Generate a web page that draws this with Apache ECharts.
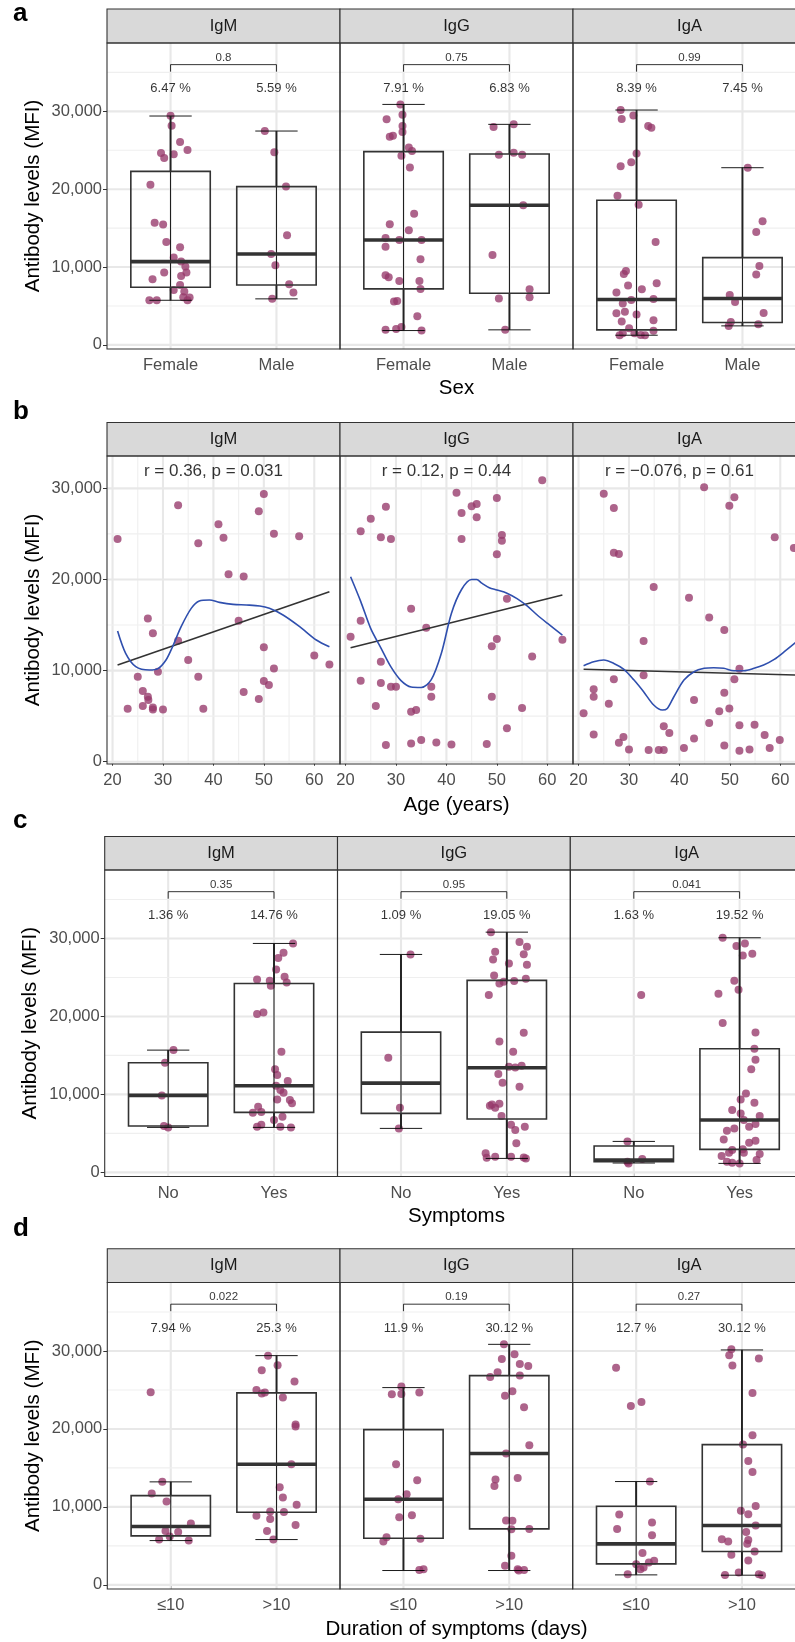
<!DOCTYPE html>
<html>
<head>
<meta charset="utf-8">
<script src="https://cdn.jsdelivr.net/npm/echarts@6/dist/echarts.min.js"></script>
<style>html,body{margin:0;padding:0;background:#fff}#c{width:795px;height:1642px}</style>
</head>
<body>
<div id="c"></div>
<script>
// ---------------- DATA ----------------
const facetNames = ['IgM', 'IgG', 'IgA'];
const sexCats = ['Female', 'Male'];
const sympCats = ['No', 'Yes'];
const durCats = ['\u226410', '>10'];
const yTicks = [0, 10000, 20000, 30000];
const yMinor = [5000, 15000, 25000, 35000];
const yMinorB = [5000, 15000, 25000];
const ageTicks = [20, 30, 40, 50, 60];
const ageMinor = [25, 35, 45, 55];

// points: [jitter offset from category, MFI]
const a_IgM_Female = [[0,29440],[0.01,28160],[0.09,26060],[0.16,25030],[-0.09,24650],[0.03,24480],[-0.06,24000],[-0.19,20580],[-0.15,15700],[-0.07,15450],[-0.04,13220],[0.09,12540],[0.03,11210],[0.10,10700],[0.14,10060],[0.15,9290],[-0.06,9290],[0.10,8860],[-0.17,8430],[0.09,7700],[0.03,7060],[0.13,6850],[0.18,6080],[0.16,5730],[-0.20,5730],[-0.13,5730],[0.12,6120]];
const a_IgM_Male = [[-0.11,27470],[-0.02,24730],[0.09,20330],[0.10,14080],[-0.05,11680],[-0.01,10230],[0.12,7790],[0.16,6720],[-0.04,5910]];
const a_IgG_Female = [[-0.03,30890],[-0.16,29000],[-0.01,29570],[-0.01,28110],[-0.01,27340],[-0.13,26740],[-0.10,26870],[0.05,25370],[0.08,24900],[-0.02,24300],[0.06,22800],[0.10,16860],[-0.13,15490],[0.05,14720],[-0.17,13740],[-0.04,13480],[0.17,13480],[-0.17,12620],[0.16,11000],[-0.17,8940],[-0.14,8690],[-0.04,8220],[0.15,8220],[0.16,7190],[-0.09,5560],[-0.06,5650],[0.13,3680],[-0.17,1930],[-0.07,2050],[-0.02,2310],[0.17,1840]];
const a_IgG_Male = [[-0.15,27980],[0.04,28330],[-0.10,24430],[0.04,24690],[0.12,24430],[0.13,17930],[-0.16,11550],[-0.10,5950],[0.19,7150],[0.19,6120],[-0.04,1930]];
const a_IgA_Female = [[-0.15,30170],[-0.14,29010],[-0.03,29480],[0.11,28110],[0.14,27900],[0,24600],[-0.15,22940],[-0.05,23450],[-0.18,19170],[0.02,18010],[0.18,13220],[-0.10,9500],[-0.12,9110],[0.19,7920],[-0.08,7620],[0.05,7150],[-0.19,6720],[-0.05,5780],[0.16,5900],[-0.13,5310],[-0.19,4070],[-0.11,4240],[0,3890],[-0.14,3000],[0.16,3170],[-0.07,2140],[-0.02,1500],[-0.16,1240],[-0.13,1500],[0.08,1240],[0.16,1800],[0.04,1280]];
const a_IgA_Male = [[0.05,22760],[0.19,15870],[0.13,14500],[0.16,10140],[0.13,9030],[-0.12,6420],[-0.07,5520],[0.20,4110],[-0.11,2950],[-0.13,2440],[0.15,2650]];
// box stats: [min, q1, median, q3, max]
const a_IgM_box = [[5730,7400,10700,22290,29400],[5910,7700,11680,20330,27470]];
const a_IgG_box = [[1840,7190,13480,24820,30890],[1930,6630,17930,24520,28330]];
const a_IgA_box = [[1240,1930,5820,18570,30170],[2440,2870,5950,11210,22760]];
const a_pvals = ['0.8', '0.75', '0.99'];
const a_pct = [['6.47 %','5.59 %'],['7.91 %','6.83 %'],['8.39 %','7.45 %']];

// panel b: [age, MFI]
const b_IgM = [[21,24440],[23,5820],[25,9330],[26,7760],[26,6110],[27,15730],[27,7130],[27.1,6770],[28,14090],[28,5960],[28,5740],[29,9880],[30,5740],[33,28140],[33,13280],[35,11160],[37,23970],[37,9330],[38,5820],[41,26050],[42,24590],[43,20560],[45,15480],[46,20340],[46,7650],[49,27480],[49,6880],[50,29380],[50,12550],[50,8850],[51,8420],[52,25030],[52,10240],[57,24740],[60,11670],[63,10680]];
const b_IgG = [[21,13720],[23,25280],[23,15480],[23,8890],[25,26670],[26,6110],[27,24630],[27,10980],[27,8640],[28,27990],[28,1830],[29,24440],[29,8230],[30,8230],[33,16800],[33,5490],[34,5670],[33,2010],[35,2380],[36,14710],[37,8230],[37,7140],[38,2120],[41,1900],[42,29530],[43,27300],[43,24440],[45,28030],[46,28280],[46,26820],[48,1940],[49,7140],[49,12660],[50,13470],[50,28940],[50,22760],[51,24880],[51,24260],[52,17890],[52,3660],[55,5890],[57,11560],[59,30880],[63,13390]];
const b_IgA = [[21,5310],[23,7940],[23,7130],[23,3000],[25,29420],[26,6370],[27,27850],[27,9040],[27,22940],[28,22800],[28,2090],[28.9,2710],[30,1350],[32.9,13250],[32.9,9480],[33.9,1280],[34.9,19170],[35.9,1280],[36.9,1280],[36.9,3880],[38,3150],[40.9,1500],[41.9,18000],[42.9,6770],[42.9,2560],[44.9,30110],[45.9,15840],[45.9,4240],[47.9,5530],[48.9,14450],[48.9,7570],[48.9,1790],[49.9,28100],[49.9,5850],[50.9,29020],[50.9,9040],[51.9,10210],[51.9,3990],[51.9,1210],[53.9,1350],[54.9,4060],[56.9,2930],[57.9,1500],[58.9,24630],[59.9,2380],[62.7,23450]];
const b_IgM_lm = [[21,10610],[63,18660]];
const b_IgG_lm = [[21,12510],[63,18300]];
const b_IgA_lm = [[21,10140],[63,9510]];
const b_IgM_loess = [[21,14340],[22.6,11890],[24.6,10430],[27.3,10060],[29,10210],[30.6,11160],[31.9,12620],[33.6,14820],[35.6,16830],[37.2,17640],[39.2,17750],[41.2,17490],[43.9,17270],[46.5,17200],[49.2,17090],[51.1,16830],[53.8,16100],[57.1,14820],[60.4,13360],[63,12620]];
const b_IgG_loess = [[21,20300],[23,17600],[25,14600],[27,12500],[29,10400],[31,8900],[33,8200],[35,8150],[37,9000],[39,11900],[41,16300],[43,18900],[45,20000],[46,20000],[47,19600],[48.5,19100],[50,18850],[52,18500],[54,17900],[56,17100],[58,16100],[60,15200],[63,13900]];
const b_IgA_loess = [[21,10540],[23,10980],[25,11160],[27,10790],[29,10140],[31,8960],[32.9,7680],[34.9,6220],[36.6,5670],[37.6,5850],[38.9,7130],[40.9,8960],[42.9,9880],[44.9,10250],[46.8,10320],[48.8,10250],[50.8,9990],[52.8,9990],[54.8,10250],[56.7,10610],[58.8,11230],[60.8,12070],[63,13060]];
const b_stats = ['r = 0.36, p = 0.031', 'r = 0.12, p = 0.44', 'r = \u22120.076, p = 0.61'];

// panel c
const c_IgM_No = [[0.05,15680],[-0.03,14060],[-0.06,9870],[-0.04,5940],[0,5770]];
const c_IgM_Yes = [[0.18,29360],[0.09,28160],[0.04,27480],[0.02,26030],[0.10,25090],[-0.16,24740],[-0.04,24570],[0.12,24360],[-0.03,23930],[-0.16,20300],[-0.10,20510],[0.07,15470],[0.01,13210],[0.03,12480],[0.13,11710],[0.02,11110],[0.06,10560],[0.09,10210],[0.03,9360],[0.15,9270],[0.17,8850],[-0.15,8420],[-0.20,7650],[-0.12,7740],[0.08,7140],[0,6710],[-0.12,6110],[-0.16,5850],[0.06,5850],[0.16,5770]];
const c_IgG_No = [[0.09,27950],[-0.12,14700],[-0.01,8290],[-0.02,5640]];
const c_IgG_Yes = [[-0.15,30810],[0.12,29530],[0.19,28930],[-0.11,28290],[0.16,27990],[-0.13,27310],[0.02,26790],[0.19,26620],[-0.12,25260],[-0.07,24230],[-0.03,24440],[0.07,24530],[0.18,24830],[-0.17,22740],[0.16,17910],[-0.07,16790],[0.06,15470],[0.02,13550],[0.08,13460],[0.14,13680],[-0.08,12610],[-0.04,11500],[0.12,10980],[-0.16,8550],[-0.11,8290],[-0.07,8800],[-0.14,8720],[-0.05,7220],[0.04,6110],[0.08,5430],[0.17,5850],[0.09,3720],[-0.20,2440],[-0.19,1880],[-0.11,2010],[0.04,2010],[0.16,1920],[0.18,1790]];
const c_IgA_No = [[0.07,22740],[-0.06,3970],[-0.06,1370],[0.08,1710],[-0.05,1150]];
const c_IgA_Yes = [[-0.16,30090],[-0.03,29020],[0.05,29360],[0.03,27820],[0.12,28030],[-0.05,24570],[-0.01,23420],[-0.20,22910],[-0.16,19150],[0.15,17950],[0.14,15850],[0.15,14440],[0.11,13210],[0.06,10130],[0.01,9360],[0.14,8930],[-0.07,7990],[0.01,7560],[0.19,7220],[0.04,6710],[-0.05,5640],[0.09,5850],[0.15,6200],[-0.12,5340],[-0.15,4230],[0.09,3800],[0.15,4060],[-0.07,2860],[0.03,2950],[-0.10,2520],[0.04,2520],[0.19,2350],[-0.17,2090],[-0.12,1370],[-0.07,1240],[0,1150],[0.16,1580]];
const c_IgM_box = [[5770,5940,9870,14060,15680],[5770,7690,11110,24230,29360]];
const c_IgG_box = [[5640,7560,11450,17990,27950],[1790,6840,13420,24620,30810]];
const c_IgA_box = [[1200,1370,1580,3380,3970],[1150,2950,6710,15850,30090]];
const c_pvals = ['0.35', '0.95', '0.041'];
const c_pct = [['1.36 %','14.76 %'],['1.09 %','19.05 %'],['1.63 %','19.52 %']];

// panel d
const d_IgM_le = [[-0.19,24700],[-0.08,13210],[-0.18,11710],[-0.04,10680],[0.19,7860],[-0.05,6920],[0.07,6790],[-0.01,6200],[-0.11,5810],[0.17,5680]];
const d_IgM_gt = [[-0.08,29400],[0.01,28160],[-0.14,27520],[0.17,26070],[-0.19,25000],[-0.14,24530],[-0.11,24660],[0.06,24020],[0.18,20560],[0.18,20300],[0.14,15470],[0.03,12520],[0.06,11200],[0.19,10260],[-0.06,9400],[0.07,9360],[-0.19,8850],[-0.06,8460],[0.18,7690],[-0.09,6920],[-0.03,5810]];
const d_IgG_le = [[-0.11,24440],[-0.02,24490],[-0.02,25430],[0.15,24660],[-0.07,15470],[0.13,13420],[0.03,11620],[-0.05,10980],[-0.04,8680],[0.08,8930],[-0.16,6110],[-0.19,5560],[0.16,5900],[0.15,1920],[0.19,2010]];
const d_IgG_gt = [[-0.05,30850],[-0.07,28970],[0.05,29570],[0.10,28330],[0.18,28080],[-0.18,26670],[-0.11,27260],[0.10,26840],[0.03,24830],[-0.04,24270],[0.14,22780],[0.19,17910],[-0.03,16840],[-0.13,13500],[0.08,13720],[-0.14,12690],[-0.03,8250],[0.03,8210],[0.02,7140],[0.19,7180],[0.02,3720],[-0.04,2440],[0.08,2010],[0.14,1920],[0.09,1840]];
const d_IgA_le = [[-0.19,27860],[-0.05,22950],[0.05,23460],[0.13,13250],[-0.16,9020],[0.15,7990],[-0.18,7180],[0.15,6370],[0.06,4100],[0,2650],[0.07,2220],[0.12,2860],[0.17,3080],[0.04,2010],[-0.08,1370]];
const d_IgA_gt = [[-0.10,30210],[-0.12,29440],[0.16,29020],[-0.09,28120],[0.10,24620],[0.10,19190],[0.01,17990],[0.06,15900],[0.10,14490],[0.13,10130],[-0.01,9490],[0.06,9060],[0.13,7610],[0.04,6790],[0.06,5770],[-0.19,5850],[-0.13,5560],[0.05,5260],[0.12,4270],[-0.10,3850],[0.06,3120],[-0.16,1280],[-0.03,1580],[0.16,1370],[0.19,1240]];
const d_IgM_box = [[5680,6280,7480,11450,13210],[5810,9320,15470,24620,29400]];
const d_IgG_box = [[1840,5980,10980,19910,25300],[1840,7180,16840,26840,30850]];
const d_IgA_box = [[1280,2690,5260,10090,13250],[1240,4270,7610,17990,30130]];
const d_pvals = ['0.022', '0.19', '0.27'];
const d_pct = [['7.94 %','25.3 %'],['11.9 %','30.12 %'],['12.7 %','30.12 %']];

// annotation heights (data units)
const P_Y = 36900, BR_HI = 36000, BR_LO = 35100, PCT_Y = 32900;
const R_X = 40, R_Y = 31900;

// ---------------- LAYOUT / STYLE ----------------
const FONT = '"Liberation Sans", Arial, Helvetica, sans-serif';
const PT = '#96386a';
const PANELS = [
  {lab:'a', top:43, height:306, left:107, w:233, stripTop:9, ymin:-530, ymax:38780, labY:14.3, xTitle:'Sex', xTitleY:388.3, yTitleX:33},
  {lab:'b', top:456, height:308, left:107, w:233, stripTop:422.5, ymin:-250, ymax:33550, labY:411.7, xTitle:'Age (years)', xTitleY:805, yTitleX:33},
  {lab:'c', top:870, height:306.5, left:104.7, w:232.8, stripTop:836.5, ymin:-530, ymax:38780, labY:821, xTitle:'Symptoms', xTitleY:1216.7, yTitleX:30},
  {lab:'d', top:1282.5, height:306.5, left:107.3, w:232.7, stripTop:1248.7, ymin:-530, ymax:38780, labY:1229.3, xTitle:'Duration of symptoms (days)', xTitleY:1629.3, yTitleX:33}
];

const grids = [], xAxes = [], yAxes = [], series = [], graphics = [];
const fmtK = v => String(Math.round(v)).replace(/\B(?=(\d{3})+(?!\d))/g, ',');

function gridLineSeries(gi, xMaj, xMin, yMaj, yMin, x0, y0) {
  const data = [];
  xMaj.forEach(v => data.push([v, y0, 0, 1]));
  xMin.forEach(v => data.push([v, y0, 0, 0]));
  yMaj.forEach(v => data.push([x0, v, 1, 1]));
  yMin.forEach(v => data.push([x0, v, 1, 0]));
  return {
    type: 'custom', xAxisIndex: gi, yAxisIndex: gi, silent: true, z: 1, clip: false,
    data,
    renderItem: (params, api) => {
      const cs = params.coordSys;
      const p = api.coord([api.value(0), api.value(1)]);
      const vert = api.value(2) === 0;
      const shape = vert ? {x1: p[0], y1: cs.y, x2: p[0], y2: cs.y + cs.height}
                         : {x1: cs.x, y1: p[1], x2: cs.x + cs.width, y2: p[1]};
      return {type: 'line', shape, silent: true,
        style: {stroke: api.value(3) ? '#e8e8e8' : '#efefef', lineWidth: api.value(3) ? 2.1 : 1.1}};
    }
  };
}

function boxRender(params, api) {
  const x = api.value(0);
  const pMin = api.coord([x, api.value(1)]), pQ1 = api.coord([x, api.value(2)]),
        pMed = api.coord([x, api.value(3)]), pQ3 = api.coord([x, api.value(4)]),
        pMax = api.coord([x, api.value(5)]);
  const bw = api.size([0.75, 0])[0], cw = api.size([0.4, 0])[0];
  const cx = pMin[0];
  const ln = (x1, y1, x2, y2, c, w) => ({type: 'line', shape: {x1, y1, x2, y2}, style: {stroke: c, lineWidth: w}});
  return {type: 'group', children: [
    ln(cx, pMin[1], cx, pMax[1], '#000', 0.9),
    ln(cx - cw / 2, pMax[1], cx + cw / 2, pMax[1], '#000', 0.9),
    ln(cx - cw / 2, pMin[1], cx + cw / 2, pMin[1], '#000', 0.9),
    ln(cx, pQ3[1], cx, pMax[1], '#222', 1.9),
    ln(cx, pQ1[1], cx, pMin[1], '#222', 1.9),
    {type: 'rect', shape: {x: cx - bw / 2, y: pQ3[1], width: bw, height: pQ1[1] - pQ3[1]},
      style: {fill: 'rgba(0,0,0,0)', stroke: '#333', lineWidth: 1.6}},
    ln(cx - bw / 2, pMed[1], cx + bw / 2, pMed[1], '#333', 3.6)
  ]};
}

function addAxes(gi, P, f, xCfg) {
  grids.push({left: P.left + f * P.w, top: P.top, width: P.w, height: P.height, show: false,
    containLabel: false, outerBoundsMode: 'none'});
  xAxes.push(Object.assign({gridIndex: gi, type: 'value', axisLine: {show: false}, splitLine: {show: false},
    axisTick: {show: true, customValues: xCfg.ticks, length: 4, lineStyle: {color: '#333', width: 1}},
    axisLabel: {show: true, customValues: xCfg.ticks, formatter: xCfg.fmt, color: '#4d4d4d', fontSize: 16.5, fontFamily: FONT, margin: 8}
  }, {min: xCfg.min, max: xCfg.max}));
  yAxes.push({gridIndex: gi, type: 'value', min: P.ymin, max: P.ymax, axisLine: {show: false}, splitLine: {show: false},
    axisTick: {show: f === 0, customValues: yTicks, length: 4, lineStyle: {color: '#333', width: 1}},
    axisLabel: {show: f === 0, customValues: yTicks, formatter: fmtK, color: '#4d4d4d', fontSize: 16.5, fontFamily: FONT, margin: 5}
  });
}

function boxFacet(gi, P, f, cats, ptsA, ptsB, box, pval, pct) {
  addAxes(gi, P, f, {min: 0.4, max: 2.6, ticks: [1, 2], fmt: v => cats[Math.round(v) - 1]});
  series.push(gridLineSeries(gi, [1, 2], [], yTicks, yMinor, 1, 0));
  series.push({type: 'scatter', xAxisIndex: gi, yAxisIndex: gi, symbolSize: 8, silent: true, z: 3,
    itemStyle: {color: PT, opacity: 0.78},
    data: ptsA.map(p => [1 + p[0], p[1]]).concat(ptsB.map(p => [2 + p[0], p[1]]))});
  series.push({type: 'custom', xAxisIndex: gi, yAxisIndex: gi, silent: true, z: 4, clip: false,
    encode: {x: 0, y: [1, 2, 3, 4, 5]},
    data: box.map((b, i) => [i + 1].concat(b)), renderItem: boxRender});
  series.push({type: 'line', xAxisIndex: gi, yAxisIndex: gi, silent: true, z: 5, symbol: 'none', showSymbol: false,
    lineStyle: {color: '#000', width: 0.8}, data: [[1, BR_LO], [1, BR_HI], [2, BR_HI], [2, BR_LO]]});
  series.push({type: 'scatter', xAxisIndex: gi, yAxisIndex: gi, silent: true, z: 6, symbolSize: 1,
    itemStyle: {color: 'rgba(0,0,0,0)'},
    label: {show: true, position: 'inside', color: '#000', fontFamily: FONT, fontSize: 13},
    data: [
      {value: [1.5, P_Y], label: {formatter: pval, fontSize: 11.5}},
      {value: [1, PCT_Y], label: {formatter: pct[0]}},
      {value: [2, PCT_Y], label: {formatter: pct[1]}}
    ]});
}

function ageFacet(gi, P, f, pts, lm, loess, stat) {
  addAxes(gi, P, f, {min: 18.9, max: 65.1, ticks: ageTicks, fmt: v => String(v)});
  series.push(gridLineSeries(gi, ageTicks, ageMinor, yTicks, yMinorB, 20, 0));
  series.push({type: 'scatter', xAxisIndex: gi, yAxisIndex: gi, symbolSize: 8, silent: true, z: 3,
    itemStyle: {color: PT, opacity: 0.78}, data: pts});
  series.push({type: 'line', xAxisIndex: gi, yAxisIndex: gi, silent: true, z: 4, symbol: 'none', showSymbol: false,
    lineStyle: {color: '#333', width: 1.6}, data: lm});
  series.push({type: 'line', xAxisIndex: gi, yAxisIndex: gi, silent: true, z: 5, symbol: 'none', showSymbol: false,
    smooth: 0.3, lineStyle: {color: '#2f4fae', width: 1.6}, data: loess});
  series.push({type: 'scatter', xAxisIndex: gi, yAxisIndex: gi, silent: true, z: 6, symbolSize: 1,
    itemStyle: {color: 'rgba(0,0,0,0)'},
    label: {show: true, position: 'inside', color: '#000', fontFamily: FONT, fontSize: 17, formatter: stat},
    data: [[R_X, R_Y]]});
}

let gi = 0;
const boxPanels = [
  {P: PANELS[0], cats: sexCats, pts: [[a_IgM_Female, a_IgM_Male], [a_IgG_Female, a_IgG_Male], [a_IgA_Female, a_IgA_Male]], box: [a_IgM_box, a_IgG_box, a_IgA_box], pv: a_pvals, pct: a_pct},
  null,
  {P: PANELS[2], cats: sympCats, pts: [[c_IgM_No, c_IgM_Yes], [c_IgG_No, c_IgG_Yes], [c_IgA_No, c_IgA_Yes]], box: [c_IgM_box, c_IgG_box, c_IgA_box], pv: c_pvals, pct: c_pct},
  {P: PANELS[3], cats: durCats, pts: [[d_IgM_le, d_IgM_gt], [d_IgG_le, d_IgG_gt], [d_IgA_le, d_IgA_gt]], box: [d_IgM_box, d_IgG_box, d_IgA_box], pv: d_pvals, pct: d_pct}
];
const agePts = [b_IgM, b_IgG, b_IgA], ageLm = [b_IgM_lm, b_IgG_lm, b_IgA_lm], ageLo = [b_IgM_loess, b_IgG_loess, b_IgA_loess];

PANELS.forEach((P, pi) => {
  for (let f = 0; f < 3; f++) {
    if (pi === 1) ageFacet(gi, P, f, agePts[f], ageLm[f], ageLo[f], b_stats[f]);
    else {
      const B = boxPanels[pi];
      boxFacet(gi, P, f, B.cats, B.pts[f][0], B.pts[f][1], B.box[f], B.pv[f], B.pct[f]);
    }
    gi++;
    const x0 = P.left + f * P.w;
    graphics.push({type: 'rect', z: 100, silent: true, shape: {x: x0, y: P.stripTop, width: P.w, height: P.top - P.stripTop},
      style: {fill: '#d9d9d9', stroke: '#333', lineWidth: 1.1}});
    graphics.push({type: 'text', z: 101, silent: true, x: x0 + P.w / 2, y: (P.stripTop + P.top) / 2,
      style: {text: facetNames[f], fill: '#1a1a1a', font: '16.5px ' + FONT, textAlign: 'center', textVerticalAlign: 'middle'}});
    graphics.push({type: 'rect', z: 100, silent: true, shape: {x: x0, y: P.top, width: P.w, height: P.height},
      style: {fill: 'rgba(0,0,0,0)', stroke: '#333', lineWidth: 1.1}});
  }
  graphics.push({type: 'text', z: 101, silent: true, x: 13, y: P.labY,
    style: {text: P.lab, fill: '#000', font: 'bold 26px ' + FONT, textAlign: 'left', textVerticalAlign: 'middle'}});
  graphics.push({type: 'text', z: 101, silent: true, x: 456.5, y: P.xTitleY,
    style: {text: P.xTitle, fill: '#000', font: '20.5px ' + FONT, textAlign: 'center', textVerticalAlign: 'middle'}});
  graphics.push({type: 'text', z: 101, silent: true, x: P.yTitleX, y: P.top + P.height / 2, rotation: Math.PI / 2,
    style: {text: 'Antibody levels (MFI)', fill: '#000', font: '20.5px ' + FONT, textAlign: 'center', textVerticalAlign: 'middle'}});
});

const chart = echarts.init(document.getElementById('c'), null, {renderer: 'canvas', width: 795, height: 1642});
chart.setOption({
  animation: false,
  backgroundColor: '#fff',
  grid: grids, xAxis: xAxes, yAxis: yAxes, series: series, graphic: graphics
});
</script>
</body>
</html>
